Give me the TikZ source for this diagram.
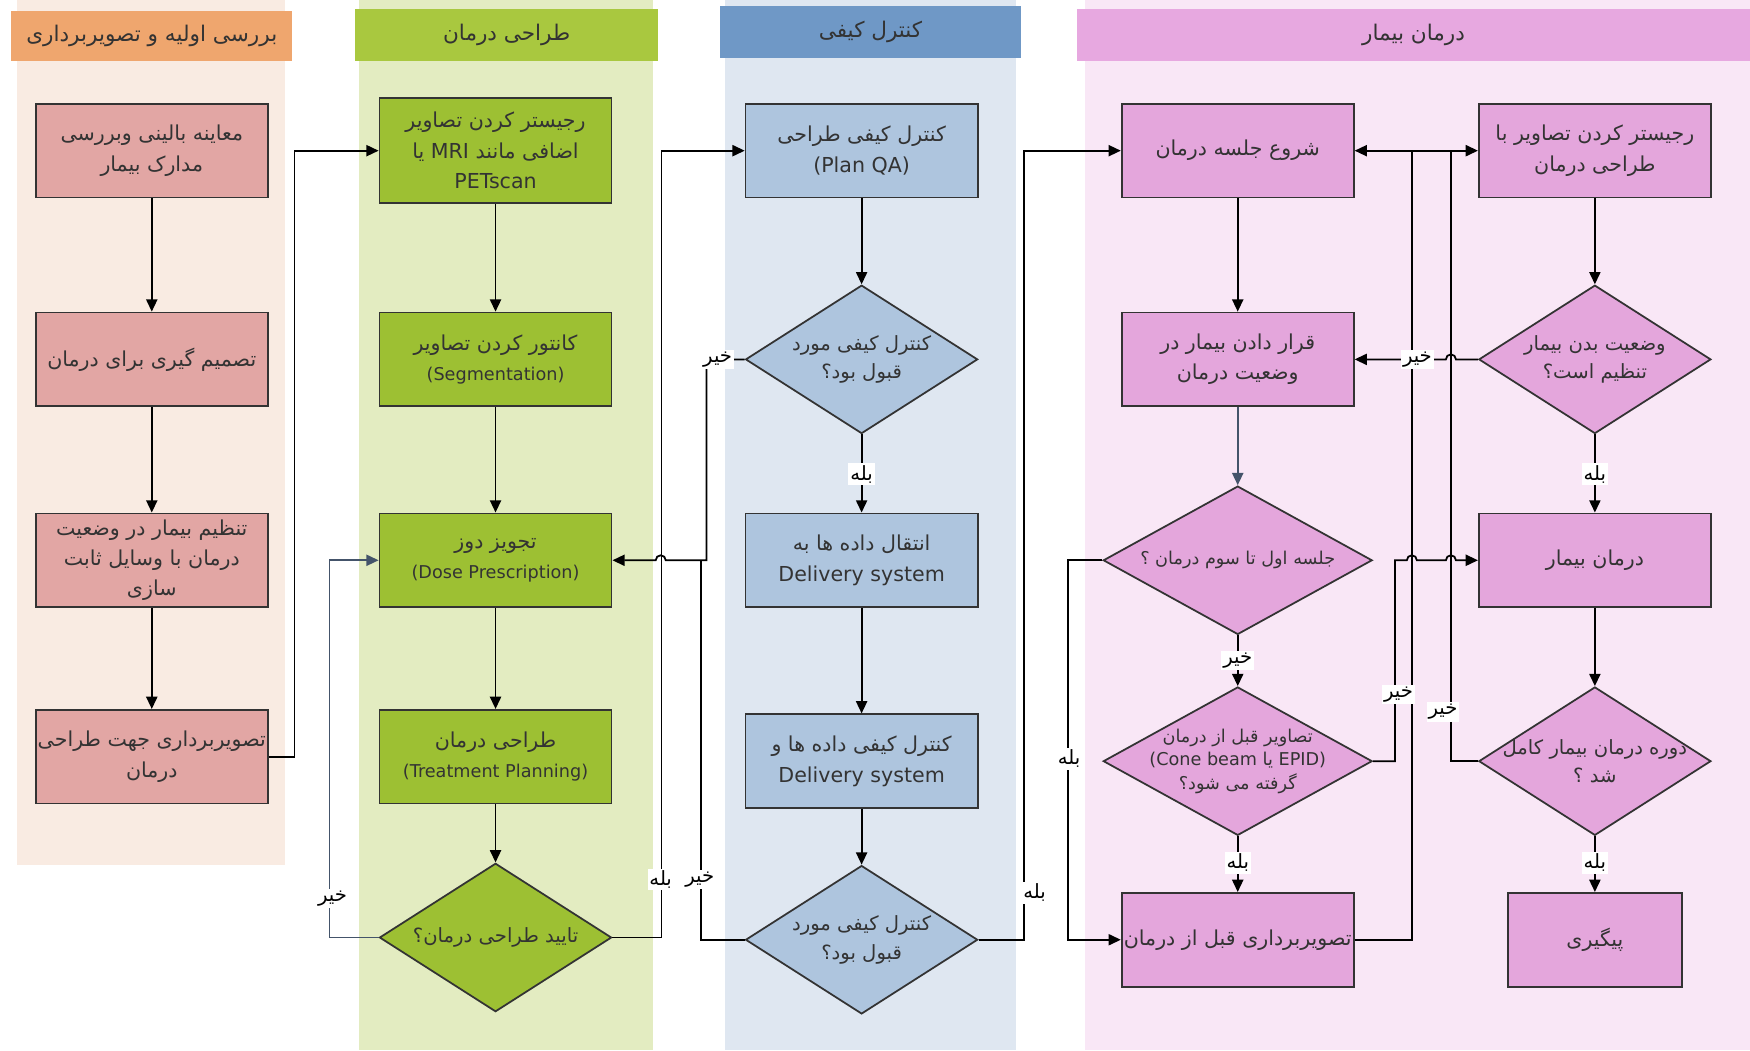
\documentclass[tikz,border=0pt]{standalone}
\usepackage{fontspec}
\setmainfont{DejaVu Sans}
\newfontfamily\fafont[Script=Arabic]{DejaVu Sans}
\TeXXeTstate=1
\newcommand{\sm}{\fontsize{9}{12}\selectfont}
\usetikzlibrary{shapes.geometric,arrows.meta}

\definecolor{hdrA}{HTML}{EFA66E}
\definecolor{bgA}{HTML}{F9EBE2}
\definecolor{boxA}{HTML}{E2A6A4}
\definecolor{hdrB}{HTML}{A9C83F}
\definecolor{bgB}{HTML}{E3ECC1}
\definecolor{boxB}{HTML}{9DC033}
\definecolor{hdrC}{HTML}{6F98C6}
\definecolor{bgC}{HTML}{DFE7F1}
\definecolor{boxC}{HTML}{AEC5DE}
\definecolor{hdrD}{HTML}{E7A8E0}
\definecolor{bgD}{HTML}{F9E7F6}
\definecolor{boxD}{HTML}{E4A6DC}
\definecolor{ink}{HTML}{333333}
\definecolor{slate}{HTML}{44546A}

\begin{document}
\begin{tikzpicture}[x=0.02cm,y=-0.02cm,
    >={Triangle[length=2.2mm,width=2mm]},
    line width=0.9pt,
    hdr/.style={inner sep=0pt,text=ink,font=\fontsize{11}{14}\selectfont},
    box/.style={draw=ink,line width=0.9pt,minimum width=4.16cm,minimum height=1.68cm,
        inner sep=1pt,align=center,text=ink,font=\fontsize{10.5}{15.5}\selectfont},
    dia/.style={diamond,draw=ink,line width=0.9pt,minimum width=4.16cm,minimum height=2.66cm,inner sep=0pt},
    dtext/.style={align=center,text=ink,font=\fontsize{10}{14.5}\selectfont},
    yn/.style={fill=white,inner sep=1pt,text=black,font=\fontsize{10}{12}\selectfont}]
    \useasboundingbox (0,0) rectangle (1568,941);
    \fill[white] (0,0) rectangle (1568,941);

    % lanes
    \fill[bgA] (15,0) rectangle (255,775);
    \fill[bgB] (322,0) rectangle (585,941);
    \fill[bgC] (650,0) rectangle (910,941);
    \fill[bgD] (972,0) rectangle (1568,941);
    \node[hdr,fill=hdrA,minimum width=5.04cm,minimum height=0.9cm] (hA) at (136,32.5) {{\fafont\beginR بررسی اولیه و تصویربرداری\endR}};
    \node[hdr,fill=hdrB,minimum width=5.44cm,minimum height=0.94cm] (hB) at (454,31.5) {{\fafont\beginR طراحی درمان\endR}};
    \node[hdr,fill=hdrC,minimum width=5.4cm,minimum height=0.94cm] (hC) at (780,28.5) {{\fafont\beginR کنترل کیفی\endR}};
    \node[hdr,fill=hdrD,minimum width=12.06cm,minimum height=0.94cm] (hD) at (1266.5,31.5) {{\fafont\beginR درمان بیمار\endR}};

    % initial review
    \node[box,fill=boxA] (a1) at (136,135) {{\fafont\beginR معاینه بالینی وبررسی\endR}\\{\fafont\beginR مدارک بیمار\endR}};
    \node[box,fill=boxA] (a2) at (136,322) {{\fafont\beginR تصمیم گیری برای درمان\endR}};
    \node[box,fill=boxA] (a3) at (136,502) {{\fafont\beginR تنظیم بیمار در وضعیت\endR}\\{\fafont\beginR درمان با وسایل ثابت\endR}\\{\fafont سازی}};
    \node[box,fill=boxA] (a4) at (136,678) {{\fafont\beginR تصویربرداری جهت طراحی\endR}\\{\fafont درمان}};

    % planning
    \node[box,fill=boxB,minimum height=1.88cm] (b1) at (444,135) {{\fafont\beginR رجیستر کردن تصاویر\endR}\\{\fafont\beginR اضافی مانند MRI یا\endR}\\PETscan};
    \node[box,fill=boxB] (b2) at (444,322) {{\fafont\beginR کانتور کردن تصاویر\endR}\\{\sm (Segmentation)}};
    \node[box,fill=boxB] (b3) at (444,502) {{\fafont\beginR تجویز دوز\endR}\\{\sm (Dose Prescription)}};
    \node[box,fill=boxB] (b4) at (444,678) {{\fafont\beginR طراحی درمان\endR}\\{\sm (Treatment Planning)}};
    \node[dia,fill=boxB,label={[dtext]center:{\fafont\beginR تایید طراحی درمان؟\endR}}] (d1) at (444,840) {};

    % quality control
    \node[box,fill=boxC] (c1) at (772,135) {{\fafont\beginR کنترل کیفی طراحی\endR}\\(Plan QA)};
    \node[dia,fill=boxC,label={[dtext]center:{{\fafont\beginR کنترل کیفی مورد\endR}\\{\fafont\beginR قبول بود؟\endR}}}] (c2) at (772,322) {};
    \node[box,fill=boxC] (c3) at (772,502) {{\fafont\beginR انتقال داده ها به\endR}\\Delivery system};
    \node[box,fill=boxC] (c4) at (772,682) {{\fafont\beginR کنترل کیفی داده ها و\endR}\\Delivery system};
    \node[dia,fill=boxC,label={[dtext]center:{{\fafont\beginR کنترل کیفی مورد\endR}\\{\fafont\beginR قبول بود؟\endR}}}] (c5) at (772,842) {};

    % treatment
    \node[box,fill=boxD] (e1) at (1109,135) {{\fafont\beginR شروع جلسه درمان\endR}};
    \node[box,fill=boxD] (e2) at (1109,322) {{\fafont\beginR قرار دادن بیمار در\endR}\\{\fafont\beginR وضعیت درمان\endR}};
    \node[dia,fill=boxD,minimum width=4.82cm,label={[dtext,font=\sm]center:{\fafont\beginR جلسه اول تا سوم درمان ؟\endR}}] (e3) at (1109,502) {};
    \node[dia,fill=boxD,minimum width=4.82cm,label={[dtext,font=\sm]center:{{\fafont\beginR تصاویر قبل از درمان\endR}\\(Cone beam {\fafont یا} EPID)\\{\fafont\beginR گرفته می شود؟\endR}}}] (e4) at (1109,682) {};
    \node[box,fill=boxD] (e5) at (1109,842) {{\fafont\beginR تصویربرداری قبل از درمان\endR}};
    \node[box,fill=boxD] (f1) at (1429,135) {{\fafont\beginR رجیستر کردن تصاویر با\endR}\\{\fafont\beginR طراحی درمان\endR}};
    \node[dia,fill=boxD,label={[dtext]center:{{\fafont\beginR وضعیت بدن بیمار\endR}\\{\fafont\beginR تنظیم است؟\endR}}}] (f2) at (1429,322) {};
    \node[box,fill=boxD] (f3) at (1429,502) {{\fafont\beginR درمان بیمار\endR}};
    \node[dia,fill=boxD,label={[dtext]center:{{\fafont\beginR دوره درمان بیمار کامل\endR}\\{\fafont\beginR شد ؟\endR}}}] (f4) at (1429,682) {};
    \node[box,fill=boxD,minimum width=3.12cm] (f5) at (1429,842) {{\fafont پیگیری}};

    % connectors
    \draw[->] (a1) -- (a2);
    \draw[->] (a2) -- (a3);
    \draw[->] (a3) -- (a4);
    \draw[->] (a4.east) -- ++(23,0) |- (b1.west);

    \draw[->] (b1) -- (b2);
    \draw[->] (b2) -- (b3);
    \draw[->] (b3) -- (b4);
    \draw[->] (b4) -- (d1);
    \draw[->,slate] (d1.west) -- ++(-44,0) |- (b3.west);
    \draw[->] (d1.east) -- ++(44,0) |- (c1.west);

    \draw[->] (c1) -- (c2);
    \draw[->] (c2) -- (c3);
    \draw[->] (c3) -- (c4);
    \draw[->] (c4) -- (c5);
    \draw[->] (c2.west) -- (633,322) -- (633,502) -- (596.5,502)
        arc[start angle=0,end angle=180,radius=0.09cm] -- (b3.east);
    \draw (c5.west) -- (628,842) -- (628,502);
    \draw[->] (c5.east) -- ++(41,0) |- (e1.west);

    \draw[->] (e1) -- (e2);
    \draw[->,slate] (e2) -- (e3);
    \draw[->] (e3) -- (e4);
    \draw[->] (e4) -- (e5);
    \draw[->] (e3.west) -- ++(-31,0) |- (e5.west);
    \draw[->] (e5.east) -- (1265,842) -- (1265,135) -- (f1.west);
    \draw[->] (f4.west) -- (1300,682) -- (1300,135) -- (e1.east);
    \draw[->] (e4.east) -- (1250,682) -- (1250,502) -- (1260.5,502)
        arc[start angle=180,end angle=0,radius=0.09cm] -- (1295.5,502)
        arc[start angle=180,end angle=0,radius=0.09cm] -- (f3.west);
    \draw[->] (f2.west) -- (1304.5,322)
        arc[start angle=0,end angle=180,radius=0.09cm] -- (e2.east);
    \draw[->] (f1) -- (f2);
    \draw[->] (f2) -- (f3);
    \draw[->] (f3) -- (f4);
    \draw[->] (f4) -- (f5);

    % yes / no labels
    \node[yn] (n1) at (298,805) {{\fafont خیر}};
    \node[yn] (y1) at (592,788) {{\fafont بله}};
    \node[yn] (n2) at (643,322) {{\fafont خیر}};
    \node[yn] (y2) at (772,425) {{\fafont بله}};
    \node[yn] (n3) at (627,788) {{\fafont خیر}};
    \node[yn] (y3) at (927,800) {{\fafont بله}};
    \node[yn] (n4) at (1109,592) {{\fafont خیر}};
    \node[yn] (y4) at (1109,773) {{\fafont بله}};
    \node[yn] (y5) at (958,680) {{\fafont بله}};
    \node[yn] (n5) at (1253,622) {{\fafont خیر}};
    \node[yn] (n6) at (1293,638) {{\fafont خیر}};
    \node[yn] (n7) at (1270,322) {{\fafont خیر}};
    \node[yn] (y6) at (1429,425) {{\fafont بله}};
    \node[yn] (y7) at (1429,773) {{\fafont بله}};
\end{tikzpicture}
\end{document}
